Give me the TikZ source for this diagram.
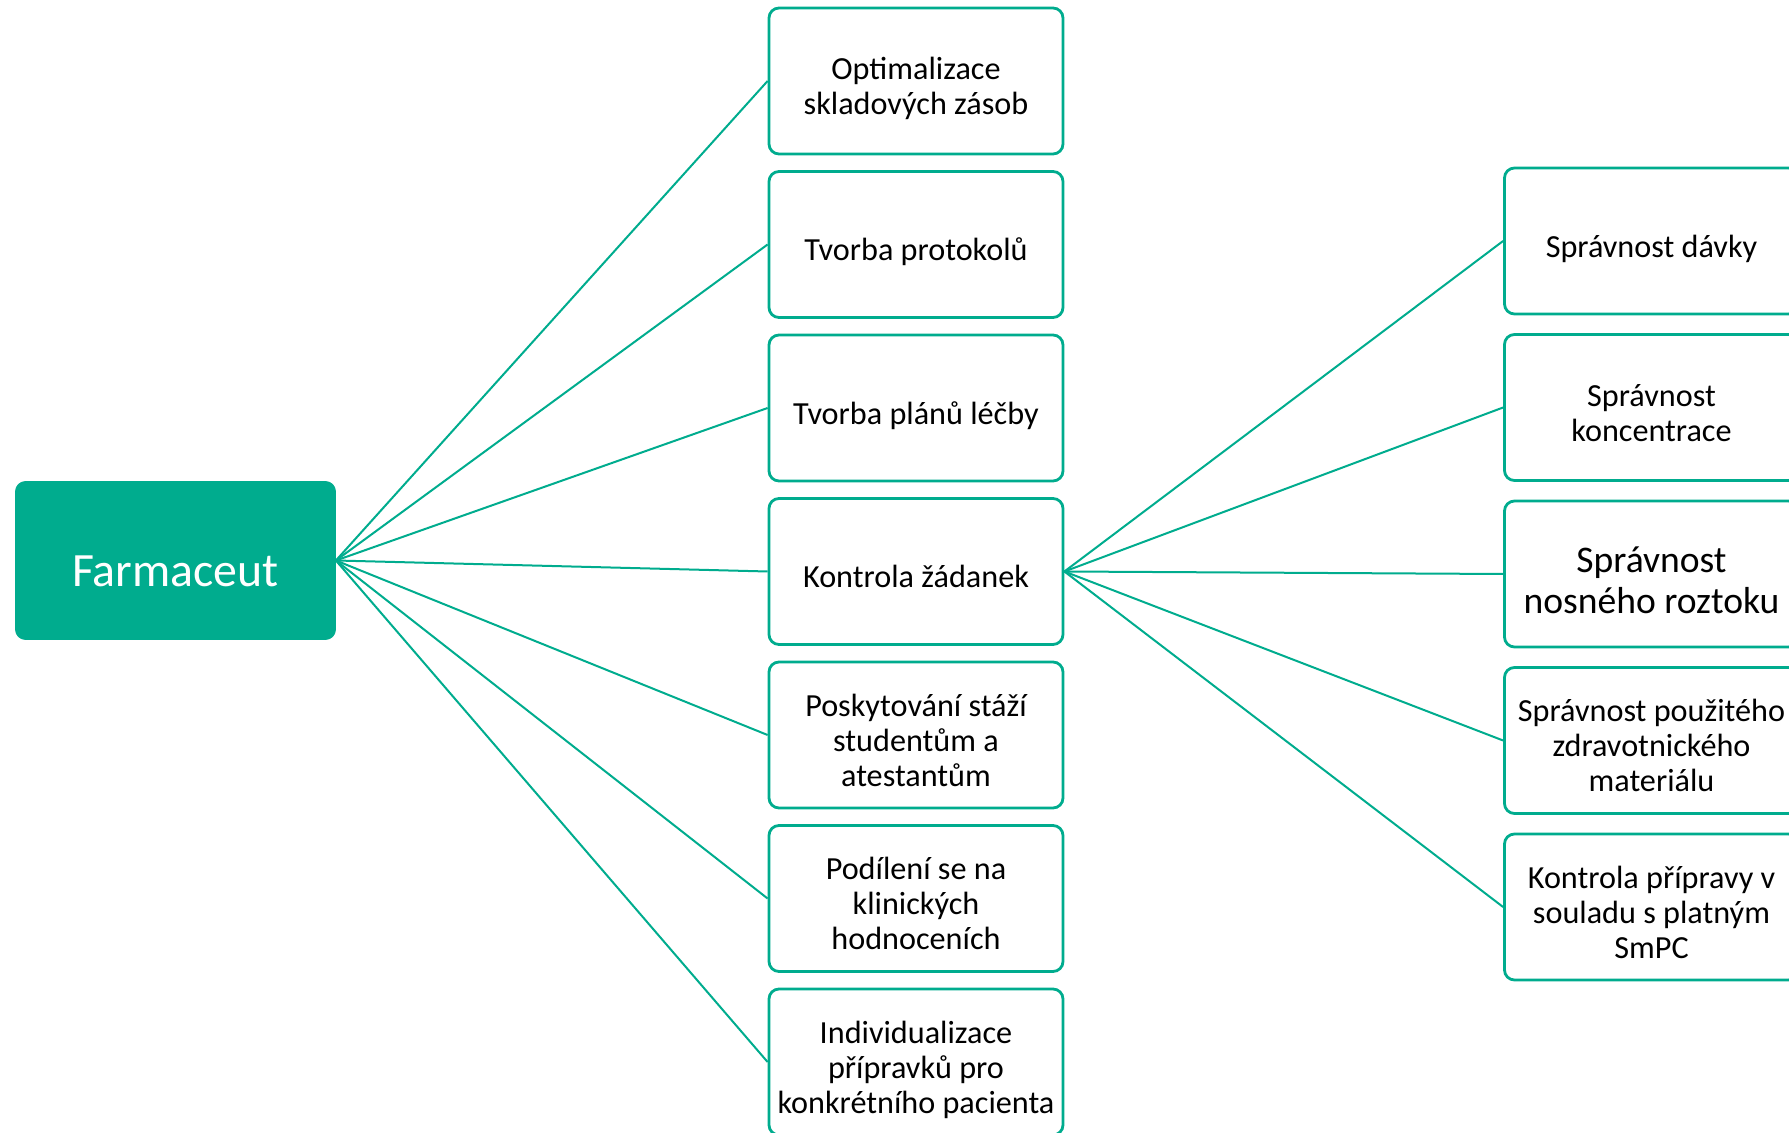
\documentclass[tikz,border=0pt]{standalone}
\usepackage{fontspec}
\setmainfont{Carlito}
\usepackage{tikz}
\usetikzlibrary{positioning}

\definecolor{farmteal}{RGB}{0,172,142}

\tikzset{
  root/.style={rectangle, rounded corners=5pt, fill=farmteal, draw=farmteal,
    text=white, minimum width=160pt, minimum height=79pt,
    text height=26pt, text depth=0pt,
    font=\fontsize{23.9}{28}\selectfont},
  task/.style={rectangle, rounded corners=5pt, draw=farmteal, line width=1.4pt,
    fill=white, minimum width=147pt, minimum height=73pt, align=center,
    inner sep=1pt, font=\fontsize{16.1}{17.4}\selectfont,
    text height=16.2pt, text depth=0pt},
  lines2/.style={text height=33.6pt},
  lines3/.style={text height=51pt},
  link/.style={draw=farmteal, line width=1pt}
}

\begin{document}
\begin{tikzpicture}[x=0.5pt,y=-0.5pt]
  \useasboundingbox (0,0) rectangle (1789,1133);

  \node[root] (farm) at (175.5,560.5) {Farmaceut};

  % middle column
  \node[task, lines2] (opt) at (916,81) {Optimalizace\\skladových zásob};
  \node[task, below=7.35pt of opt] (prot) {Tvorba protokolů};
  \node[task, below=7.35pt of prot] (plan) {Tvorba plánů léčby};
  \node[task, below=7.35pt of plan] (kontr) {Kontrola žádanek};
  \node[task, lines3, below=7.35pt of kontr] (staz) {Poskytování stáží\\studentům a\\atestantům};
  \node[task, lines3, below=7.35pt of staz] (klin) {Podílení se na\\klinických\\hodnoceních};
  \node[task, lines3, below=7.35pt of klin] (indiv) {Individualizace\\přípravků pro\\konkrétního pacienta};

  % right column
  \node[task] (davka) at (1651.5,241) {Správnost dávky};
  \node[task, lines2, below=8.85pt of davka] (konc) {Správnost\\koncentrace};
  \node[task, below=8.85pt of konc, font=\fontsize{18.8}{20.5}\selectfont,
        text height=39.5pt] (nos) {Správnost\\nosného roztoku};
  \node[task, lines3, below=8.85pt of nos] (mat) {Správnost použitého\\zdravotnického\\materiálu};
  \node[task, lines3, below=8.85pt of mat] (smpc) {Kontrola přípravy v\\souladu s platným\\SmPC};

  \foreach \t in {opt,prot,plan,kontr,staz,klin,indiv}
    \draw[link] (farm.east) -- (\t.west);
  \foreach \t in {davka,konc,nos,mat,smpc}
    \draw[link] (kontr.east) -- (\t.west);
\end{tikzpicture}
\end{document}
